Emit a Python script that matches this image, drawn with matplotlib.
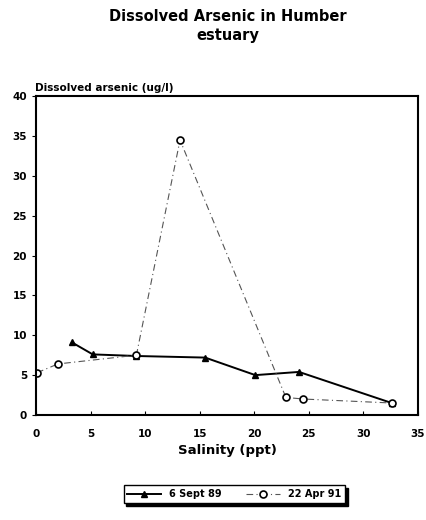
import matplotlib
matplotlib.use('Agg')
import matplotlib.pyplot as plt

plt.rcParams['font.family'] = ['DejaVu Sans']
plt.rcParams['font.weight'] = 'bold'

# 6 Sept 89
sal_89 = [3.3, 5.2, 9.2, 15.5, 20.1, 24.1, 32.6]
ars_89 = [9.1, 7.6, 7.4, 7.2, 5.0, 5.4, 1.5]
# 22 Apr 91
sal_91 = [0.1, 2.0, 9.2, 13.2, 22.9, 24.5, 32.6]
ars_91 = [5.3, 6.4, 7.5, 34.5, 2.2, 2.0, 1.5]

xticks = [0, 5, 10, 15, 20, 25, 30, 35]
yticks = [0, 5, 10, 15, 20, 25, 30, 35, 40]

fig = plt.figure(figsize=(4.26, 5.2), dpi=100)
ax = fig.add_axes([0.0845, 0.202, 0.8965, 0.613])

ax.plot(sal_89, ars_89, '-', color='black', lw=1.4, marker='^', ms=5,
        label='6 Sept 89')
ax.plot(sal_91, ars_91, linestyle=(0, (6, 3, 1, 3)), color='#555555', lw=0.8,
        marker='o', ms=5, mfc='white', mec='black', mew=1.2, label='22 Apr 91')

ax.set_xlim(0, 35)
ax.set_ylim(0, 40)
ax.set_xticks(xticks)
ax.set_yticks(yticks)
ax.tick_params(axis='x', direction='in', length=3, labelsize=7.5, pad=10)
ax.tick_params(axis='y', direction='out', length=3, labelsize=7.5)
for lab in ax.get_xticklabels() + ax.get_yticklabels():
    lab.set_fontweight('bold')
for s in ax.spines.values():
    s.set_linewidth(1.5)

fig.text(0.535, 0.982, 'Dissolved Arsenic in Humber\nestuary', ha='center',
         va='top', fontsize=10.5, fontweight='bold', linespacing=1.3)
fig.text(0.082, 0.822, 'Dissolved arsenic (ug/l)', ha='left', va='bottom',
         fontsize=7.5, fontweight='bold')
ax.set_xlabel('Salinity (ppt)', fontsize=9.5, fontweight='bold', labelpad=4)

leg = fig.legend(loc='center', bbox_to_anchor=(0.55, 0.05), ncol=2,
                 fontsize=7, frameon=True, fancybox=False,
                 shadow={'color': 'black', 'alpha': 1},
                 edgecolor='black', handlelength=3.5, columnspacing=2.5)
leg.get_frame().set_linewidth(1.0)

fig.savefig('out.png', dpi=100)
